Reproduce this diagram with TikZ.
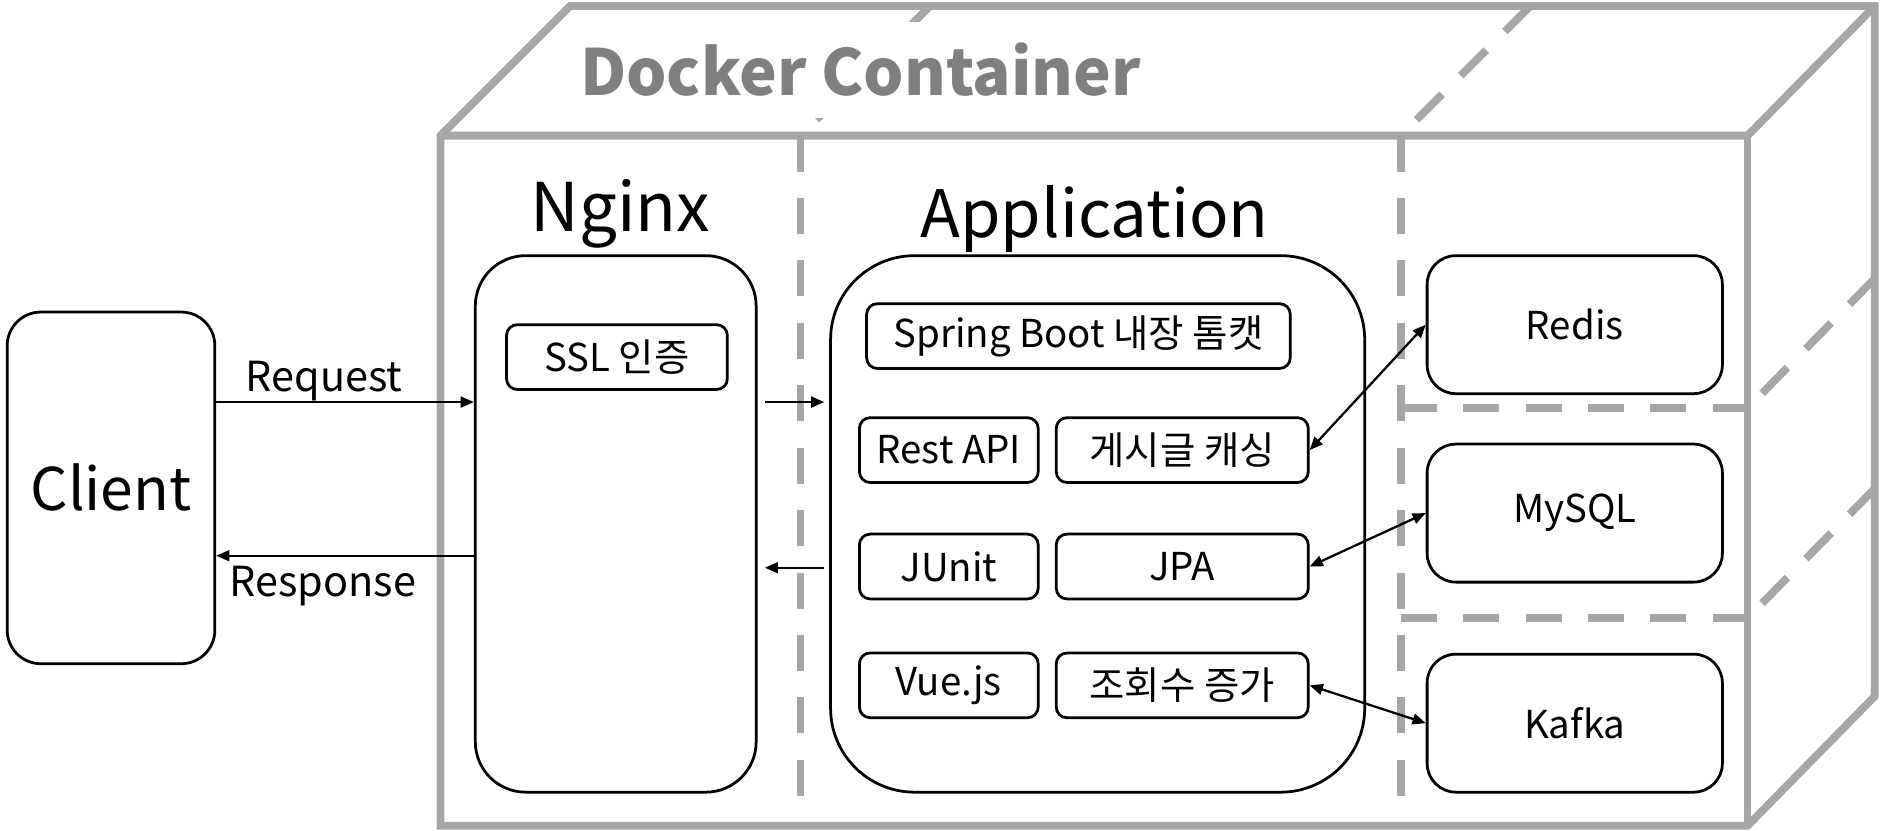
\documentclass[tikz,border=0pt]{standalone}
\usepackage{fontspec}
\setmainfont{Noto Sans CJK KR}
\usetikzlibrary{arrows.meta}
\definecolor{boxgray}{HTML}{A6A6A6}
\definecolor{titlegray}{HTML}{7F7F7F}
\begin{document}
\begin{tikzpicture}[x=1pt,y=-1pt,
  wall/.style={draw=boxgray, line width=6.5pt, line join=miter},
  hidden/.style={draw=boxgray, line width=6.5pt, dash pattern=on 30pt off 22pt},
  rbox/.style={draw=black, line width=2.3pt, fill=white, rounded corners=#1, inner sep=0pt},
  rbox/.default=9pt,
  smallbox/.style={rbox, minimum height=54pt, font=\fontsize{32}{38}\selectfont},
  dbbox/.style={rbox=24pt, minimum width=246pt, minimum height=115pt, font=\fontsize{32}{38}\selectfont},
  bigtext/.style={font=\fontsize{54.5}{62}\selectfont, inner sep=0pt},
  lbl/.style={font=\fontsize{34.5}{40}\selectfont, inner sep=0pt},
  conn/.style={draw=black, line width=1.9pt, -{Triangle[length=11pt,width=9pt]}},
  biconn/.style={draw=black, line width=1.9pt, {Triangle[length=11pt,width=9pt]}-{Triangle[length=11pt,width=9pt]}}
]
\useasboundingbox (0,0) rectangle (1568,692);
\fill[white] (0,0) rectangle (1568,692);

% container outline
\draw[wall] (367,688) -- (367,113) -- (475,5) -- (1562,5) -- (1562,580) -- (1456,688) -- cycle;
\draw[wall] (367,113) -- (1456,113) -- (1562,5);
\draw[wall] (1456,113) -- (1456,688);

% hidden / dashed edges
\draw[hidden] (667,113) -- (667,688);
\draw[hidden] (1167,113) -- (1167,688);
\draw[hidden] (1167,340) -- (1456,340);
\draw[hidden] (1167,515) -- (1456,515);
\draw[hidden] (775,5) -- (667,113);
\draw[hidden] (1275,5) -- (1167,113);
\draw[hidden] (1562,232) -- (1456,340);
\draw[hidden] (1562,407) -- (1456,515);

% title
\node[fill=white, minimum width=490pt, minimum height=80pt, inner sep=0pt,
      font=\fontsize{53}{60}\selectfont\bfseries, text=titlegray] (title) at (717,58) {Docker Container};

% section labels
\node[bigtext, font=\fontsize{56}{64}\selectfont, anchor=base] (nginxlbl) at (517,193) {Nginx};
\node[bigtext, anchor=base] (applbl) at (912,198) {Application};

% main boxes
\node[rbox=28pt, minimum width=173pt, minimum height=293pt, font=\fontsize{49}{56}\selectfont] (client) at (92.5,406.5) {Client};
\node[rbox=42pt, minimum width=234pt, minimum height=447pt] (nginx) at (513,436.5) {};
\node[rbox=70pt, minimum width=445pt, minimum height=447pt] (app) at (914.5,436.5) {};

% inner boxes
\node[smallbox, minimum width=184pt] (ssl) at (514,297.5) {SSL 인증};
\node[smallbox, minimum width=353pt] (spring) at (898.5,280) {Spring Boot 내장 톰캣};
\node[smallbox, minimum width=149pt] (rest) at (790.5,375) {Rest API};
\node[smallbox, minimum width=210pt] (cache) at (985,375) {게시글 캐싱};
\node[smallbox, minimum width=149pt] (junit) at (790.5,472) {JUnit};
\node[smallbox, minimum width=210pt] (jpa) at (985,472) {JPA};
\node[smallbox, minimum width=149pt] (vue) at (790.5,571) {Vue.js};
\node[smallbox, minimum width=210pt] (views) at (985,571) {조회수 증가};

% data stores
\node[dbbox] (redis) at (1312,270.5) {Redis};
\node[dbbox] (mysql) at (1312,427.5) {MySQL};
\node[dbbox] (kafka) at (1312,602.5) {Kafka};

% connectors
\draw[conn] ([yshift=71.5pt]client.east) -- ([yshift=101.5pt]nginx.west);
\draw[conn] ([yshift=-26.5pt]nginx.west) -- ([yshift=-56.5pt]client.east);
\draw[conn] ([xshift=6pt,yshift=101.5pt]nginx.east) -- ([xshift=-4pt,yshift=101.5pt]app.west);
\draw[conn] ([xshift=-4pt,yshift=-36.5pt]app.west) -- ([xshift=6pt,yshift=-36.5pt]nginx.east);
\draw[biconn] (cache.east) -- (redis.west);
\draw[biconn] (jpa.east) -- (mysql.west);
\draw[biconn] (views.east) -- (kafka.west);

% connector labels
\node[lbl, anchor=base] (reqlbl) at (270,326) {Request};
\node[lbl, anchor=base] (reslbl) at (269,497) {Response};
\end{tikzpicture}
\end{document}
